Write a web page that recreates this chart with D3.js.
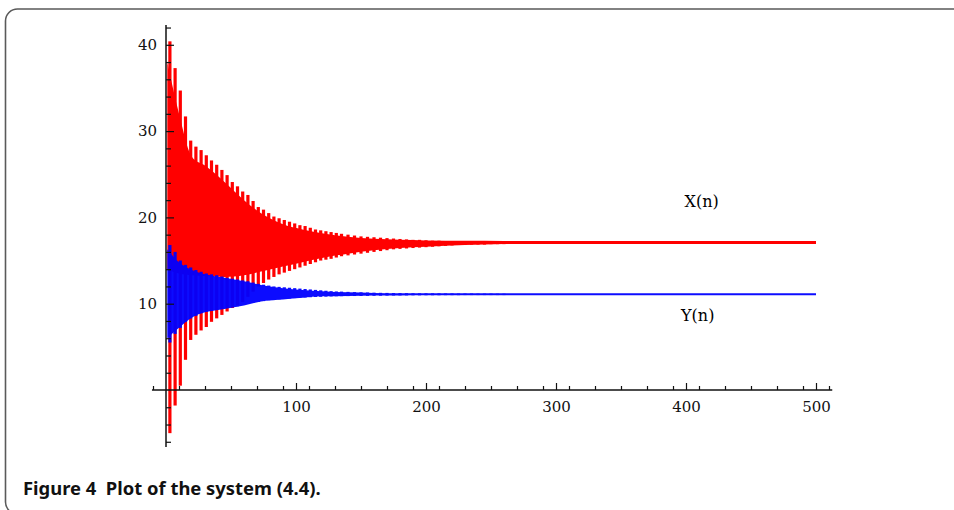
<!DOCTYPE html>
<html>
<head>
<meta charset="utf-8">
<script src="https://cdn.jsdelivr.net/npm/d3@7"></script>
<style>
  html, body { margin: 0; padding: 0; background: #fff; }
  svg { display: block; }
</style>
</head>
<body>
<div id="chart"></div>
<script>
// n values where the oscillation teeth show up
let spikeN = [3,7,11,15,19,23,27,31,35,39,43,47,51,55,59,63,67,71,75,79,83,87,91,95,99,
  103,107,111,115,119,123,127,131,135,140,145,150,155,160,165,170,175,180,185,190,195,
  200,205,210,215,220,225,230,235,240,245,250,255,260];

// X(n) teeth: peaks and troughs
let xPeak = [40.4,37.3,34.7,31.7,28.9,28.2,27.8,27.2,26.6,26.1,25.5,24.9,24.1,23.6,23.0,22.6,21.9,21.2,20.9,20.5,20.1,19.9,19.7,19.5,19.3,
  19.1,19.0,18.8,18.6,18.5,18.4,18.3,18.2,18.1,18.0,17.9,17.8,17.75,17.7,17.65,17.6,17.55,17.5,17.45,17.4,17.4,
  17.35,17.3,17.3,17.25,17.25,17.2,17.2,17.2,17.15,17.15,17.15,17.1,17.1];
let xTrough = [-5.0,-1.8,0.5,3.5,5.8,6.4,6.9,7.3,7.9,8.3,8.7,9.1,9.5,9.8,10.2,10.8,11.4,12.0,12.4,12.8,13.1,13.4,13.6,13.8,14.0,
  14.2,14.4,14.6,14.8,15.0,15.1,15.2,15.35,15.5,15.6,15.7,15.8,15.9,16.0,16.1,16.2,16.3,16.35,16.4,16.45,16.5,
  16.55,16.6,16.65,16.7,16.75,16.8,16.8,16.85,16.85,16.85,16.9,16.9,16.9];

// Y(n) teeth: peaks and troughs
let yPeak = [16.8,16.0,15.0,14.5,14.2,13.9,13.7,13.5,13.4,13.3,13.15,13.0,12.9,12.8,12.7,12.6,12.45,12.3,12.2,12.1,12.0,11.95,11.9,11.85,11.8,
  11.75,11.7,11.65,11.6,11.55,11.5,11.45,11.42,11.4,11.37,11.34,11.32,11.3,11.28,11.26,11.25,11.24,11.23,11.22,11.21,11.2,
  11.2,11.2,11.2,11.19,11.19,11.18,11.18,11.18,11.17,11.17,11.17,11.16,11.16];
let yTrough = [5.5,6.5,7.2,7.9,8.3,8.6,8.9,9.1,9.2,9.3,9.4,9.5,9.6,9.7,9.85,10.0,10.1,10.2,10.3,10.4,10.45,10.5,10.55,10.6,10.65,
  10.7,10.72,10.75,10.78,10.8,10.82,10.84,10.86,10.87,10.88,10.89,10.9,10.91,10.92,10.93,10.94,10.95,10.96,10.96,10.97,10.97,
  10.98,10.98,10.98,10.99,10.99,10.99,11.0,11.0,11.0,11.0,11.0,11.0,11.0];

// solid band in between the teeth
let coreN = [1,10,20,30,45,60,75,90,105,120,140,160,180,200,230,260,300,500];
let xCoreHigh = [38,32,27,26.0,24.1,22.0,20.3,19.2,18.6,18.15,17.75,17.52,17.4,17.33,17.29,17.27,17.27,17.27];
let xCoreLow  = [14,13.5,13.3,13.2,13.1,13.3,13.8,14.3,14.8,15.3,15.8,16.2,16.45,16.6,16.8,16.93,16.93,16.93];
let yCoreHigh = [16.3,14.8,13.9,13.4,13.0,12.6,12.1,11.8,11.6,11.45,11.32,11.25,11.22,11.21,11.21,11.21,11.21,11.21];
let yCoreLow  = [6.0,7.2,8.4,9.0,9.4,9.8,10.3,10.5,10.7,10.85,10.9,10.94,10.96,10.97,10.97,10.97,10.97,10.97];

let xTicksMajor = [100,200,300,400,500];
let xTicksMinor = d3.range(-10, 520, 20).filter(v => v % 100 != 0 && v > -11 && v < 512);
let yTicksMajor = [10,20,30,40];
let yTicksMinor = [-6,-4,-2,2,4,6,8,12,14,16,18,22,24,26,28,32,34,36,38,42];

let width = 954, height = 510;
let serif = "'DejaVu Serif', 'Liberation Serif', serif";

let svg = d3.select("#chart").append("svg")
  .attr("width", width)
  .attr("height", height);

// frame around the figure
svg.append("rect")
  .attr("x", 5.5).attr("y", 9)
  .attr("width", 1000).attr("height", 505)
  .attr("rx", 12).attr("ry", 12)
  .attr("fill", "none")
  .attr("stroke", "#5a5a5a")
  .attr("stroke-width", 1.6);

let x = d3.scaleLinear().domain([0, 500]).range([166, 816]);
let y = d3.scaleLinear().domain([0, 40]).range([390, 44.8]);

let band = (hi, lo) => d3.area()
  .x((d, i) => x(coreN[i]))
  .y0((d, i) => y(lo[i]))
  .y1((d, i) => y(hi[i]))
  .curve(d3.curveMonotoneX)(coreN);

let teeth = (g, peak, trough, color) => {
  g.selectAll("rect")
    .data(spikeN)
    .enter()
    .append("rect")
      .attr("x", (d) => x(d) - 1.6)
      .attr("width", 3.2)
      .attr("y", (d, i) => y(peak[i]))
      .attr("height", (d, i) => y(trough[i]) - y(peak[i]))
      .style("fill", color);
}

// X(n) in red
svg.append("path").attr("d", band(xCoreHigh, xCoreLow)).style("fill", "#ff0000");
teeth(svg.append("g"), xPeak, xTrough, "#ff0000");

// Y(n) in blue, drawn over the red
let gb = svg.append("g").style("opacity", 0.95);
gb.append("path").attr("d", band(yCoreHigh, yCoreLow)).style("fill", "#0000ff");
teeth(gb.append("g"), yPeak, yTrough, "#0000ff");

// axes
let axisColor = "#111";
svg.append("line")
  .attr("x1", x(-10.8)).attr("x2", x(512.5))
  .attr("y1", y(0)).attr("y2", y(0))
  .attr("stroke", axisColor).attr("stroke-width", 1.5);
svg.append("line")
  .attr("x1", x(0)).attr("x2", x(0))
  .attr("y1", y(42.3)).attr("y2", y(-6.6))
  .attr("stroke", axisColor).attr("stroke-width", 1.5);

let fixAxis = (g) => {
  g.select(".domain").remove();
  g.selectAll("line").attr("stroke", axisColor).attr("stroke-width", 1.2);
  g.selectAll("text")
    .attr("fill", "#111")
    .style("font-family", serif)
    .style("font-size", "15px");
}

svg.append("g").attr("transform", "translate(0," + y(0) + ")")
  .call(d3.axisTop(x).tickValues(xTicksMinor).tickSize(4).tickFormat(""))
  .call(fixAxis);
svg.append("g").attr("transform", "translate(0," + y(0) + ")")
  .call(d3.axisTop(x).tickValues(xTicksMajor).tickSize(7).tickFormat(""))
  .call(fixAxis);
svg.append("g").attr("transform", "translate(0," + y(0) + ")")
  .call(d3.axisBottom(x).tickValues(xTicksMajor).tickSize(0).tickPadding(11))
  .call(fixAxis);

svg.append("g").attr("transform", "translate(" + x(0) + ",0)")
  .call(d3.axisRight(y).tickValues(yTicksMinor).tickSize(5).tickFormat(""))
  .call(fixAxis);
svg.append("g").attr("transform", "translate(" + x(0) + ",0)")
  .call(d3.axisRight(y).tickValues(yTicksMajor).tickSize(8).tickFormat(""))
  .call(fixAxis);
svg.append("g").attr("transform", "translate(" + x(0) + ",0)")
  .call(d3.axisLeft(y).tickValues(yTicksMajor).tickSize(0).tickPadding(9))
  .call(fixAxis);

// series labels
svg.append("text")
  .attr("x", x(412)).attr("y", y(21.8))
  .attr("dy", "0.35em")
  .attr("text-anchor", "middle")
  .style("font-family", serif)
  .style("font-size", "16px")
  .text("X(n)");
svg.append("text")
  .attr("x", x(409)).attr("y", y(8.7))
  .attr("dy", "0.35em")
  .attr("text-anchor", "middle")
  .style("font-family", serif)
  .style("font-size", "16px")
  .text("Y(n)");

// caption
svg.append("text")
  .attr("x", 23).attr("y", 495)
  .style("white-space", "pre")
  .style("font-family", "'Noto Sans', 'Open Sans', sans-serif")
  .style("font-weight", "700")
  .style("font-size", "18.4px")
  .style("fill", "#111")
  .text("Figure 4  Plot of the system (4.4).");
</script>
</body>
</html>
